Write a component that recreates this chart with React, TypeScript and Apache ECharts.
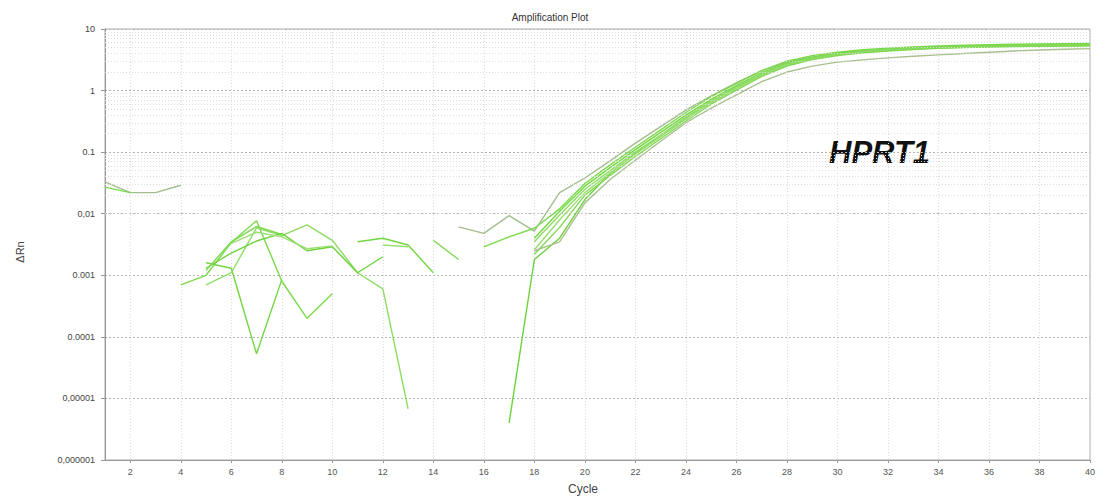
import React, { useEffect, useRef } from "react";
import * as echarts from "echarts";

// Cycle numbers on the x axis
const cycles = [
  1, 2, 3, 4, 5, 6, 7, 8, 9, 10, 11, 12, 13, 14, 15, 16, 17, 18, 19, 20,
  21, 22, 23, 24, 25, 26, 27, 28, 29, 30, 31, 32, 33, 34, 35, 36, 37, 38, 39, 40,
];
const xTickCycles = [2, 4, 6, 8, 10, 12, 14, 16, 18, 20, 22, 24, 26, 28, 30, 32, 34, 36, 38, 40];
const yTickLabels = ["0,000001", "0,00001", "0.0001", "0.001", "0,01", "0.1", "1", "10"];

// ΔRn per cycle for each well (null = negative / not plotted on log scale)
const well1 = [
  0.033, 0.022, 0.022, 0.029, null, null, null, null, null, null,
  null, null, null, null, 0.0061, 0.0048, 0.0093, 0.0052, 0.022, 0.038,
  0.072, 0.14, 0.26, 0.48, 0.82, 1.35, 2.1, 2.9, 3.5, 4.0,
  4.35, 4.6, 4.8, 5.0, 5.1, 5.2, 5.3, 5.35, 5.4, 5.45,
];
const well2 = [
  0.027, 0.022, null, 0.0007, 0.001, 0.0034, 0.0077, 0.0008, 0.0002, 0.0005,
  null, null, null, null, null, 0.0029, 0.0042, 0.0058, 0.012, 0.031,
  0.062, 0.12, 0.23, 0.44, 0.8, 1.3, 2.1, 3.0, 3.7, 4.2,
  4.6, 4.9, 5.1, 5.3, 5.45, 5.55, 5.65, 5.7, 5.75, 5.8,
];
const well3 = [
  null, null, null, null, 0.0016, 0.0013, 0.000053, 0.00085, null, null,
  0.0035, 0.004, 0.0031, 0.0011, null, null, null, 0.004, 0.011, 0.028,
  0.056, 0.11, 0.21, 0.4, 0.72, 1.2, 1.95, 2.8, 3.5, 4.0,
  4.4, 4.7, 4.95, 5.15, 5.3, 5.4, 5.5, 5.55, 5.6, 5.65,
];
const well4 = [
  null, null, null, null, 0.0007, 0.0011, 0.0059, 0.0044, 0.0066, 0.0037,
  0.0011, 0.0006, 0.0000068, null, null, null, null, 0.0035, 0.0095, 0.025,
  0.05, 0.1, 0.19, 0.37, 0.68, 1.15, 1.85, 2.7, 3.4, 3.9,
  4.3, 4.6, 4.85, 5.05, 5.2, 5.3, 5.4, 5.45, 5.5, 5.55,
];
const well5 = [
  null, null, null, null, 0.0013, 0.0023, 0.0036, 0.0048, 0.0025, 0.0029,
  0.0011, 0.002, null, null, null, null, 0.000004, 0.0018, 0.004, 0.017,
  0.045, 0.095, 0.18, 0.35, 0.64, 1.1, 1.8, 2.6, 3.3, 3.8,
  4.2, 4.5, 4.75, 4.95, 5.1, 5.2, 5.3, 5.35, 5.4, 5.45,
];
const well6 = [
  null, null, null, null, null, 0.0033, 0.005, 0.0042, 0.0027, 0.003,
  null, 0.0031, 0.0029, null, null, null, null, 0.0026, 0.008, 0.022,
  0.046, 0.093, 0.18, 0.35, 0.65, 1.1, 1.8, 2.6, 3.3, 3.8,
  4.2, 4.5, 4.75, 4.9, 5.05, 5.15, 5.25, 5.3, 5.35, 5.4,
];
const well7 = [
  null, null, null, null, 0.0012, 0.0035, 0.0062, 0.0046, null, null,
  null, null, null, 0.0037, 0.0018, null, null, 0.0022, 0.006, 0.02,
  0.042, 0.085, 0.165, 0.32, 0.6, 1.02, 1.7, 2.5, 3.2, 3.7,
  4.1, 4.4, 4.65, 4.85, 5.0, 5.1, 5.2, 5.25, 5.3, 5.35,
];
const well8 = [
  null, null, null, null, null, null, null, null, null, null,
  null, null, null, null, null, null, null, 0.0025, 0.0035, 0.015,
  0.036, 0.074, 0.15, 0.3, 0.52, 0.85, 1.4, 2.0, 2.5, 2.9,
  3.15, 3.4, 3.6, 3.8, 4.0, 4.2, 4.4, 4.55, 4.7, 4.8,
];

const wells = [well1, well2, well3, well4, well5, well6, well7, well8];
const wellColors = [
  "#a2bd8e", "#7bd94b", "#72d643", "#8fdc63", "#6ed23d", "#9ade70", "#7fd851", "#a8c08f",
];

// Faint in-decade grid lines (2..9 × each decade)
const decades = [1e-6, 1e-5, 1e-4, 1e-3, 1e-2, 1e-1, 1];
const minorSteps = [2, 3, 4, 5, 6, 7, 8, 9];

export default function App() {
  const ref = useRef<HTMLDivElement>(null);

  useEffect(() => {
    if (!ref.current) return;
    const chart = echarts.init(ref.current, null, { renderer: "svg" });

    const minorLines: { yAxis: number }[] = [];
    decades.forEach((d) => minorSteps.forEach((m) => minorLines.push({ yAxis: +(d * m).toPrecision(3) })));

    const lineSeries = wells.map((w, i) => ({
      type: "line",
      name: "Well " + (i + 1),
      data: cycles.map((c, j) => [c, w[j]]),
      showSymbol: false,
      symbol: "none",
      connectNulls: false,
      lineStyle: { color: wellColors[i], width: 1.4 },
      itemStyle: { color: wellColors[i] },
      z: 3,
    }));

    chart.setOption({
      animation: false,
      backgroundColor: "#ffffff",
      title: {
        text: "Amplification Plot",
        left: 545,
        top: 7,
        textAlign: "center",
        textStyle: { fontSize: 10, fontWeight: "normal", color: "#333", fontFamily: "Liberation Sans, Arial, sans-serif" },
      },
      grid: {
        left: 105,
        right: 9,
        top: 29,
        bottom: 39,
        show: true,
        borderColor: "#aaaaaa",
        borderWidth: 1,
        containLabel: false,
      },
      xAxis: {
        type: "value",
        min: 1,
        max: 40,
        axisLine: { lineStyle: { color: "#999999" } },
        axisTick: { show: true, customValues: xTickCycles, length: 3, lineStyle: { color: "#999999" } },
        axisLabel: {
          customValues: xTickCycles,
          fontSize: 9,
          color: "#555",
          margin: 7,
          fontFamily: "Liberation Sans, Arial, sans-serif",
        },
        splitLine: { show: true, lineStyle: { color: "#dcdcdc", type: [1, 2], width: 1 } },
      },
      yAxis: {
        type: "log",
        logBase: 10,
        min: 1e-6,
        max: 10,
        splitNumber: 7,
        axisLine: { show: true, lineStyle: { color: "#999999" } },
        axisTick: { show: true, length: 4, lineStyle: { color: "#999999" } },
        axisLabel: {
          fontSize: 9,
          color: "#444",
          margin: 10,
          fontFamily: "Liberation Sans, Arial, sans-serif",
          formatter: (v: number) => {
            const k = Math.round(Math.log10(v)) + 6;
            return yTickLabels[k] ?? "";
          },
        },
        splitLine: { show: true, lineStyle: { color: "#b4b4b4", type: [2, 2], width: 1 } },
      },
      graphic: [
        {
          type: "text",
          x: 20,
          y: 252,
          rotation: Math.PI / 2,
          style: {
            text: "ΔRn",
            fontSize: 11,
            fill: "#444",
            fontFamily: "Liberation Sans, Arial, sans-serif",
            textAlign: "center",
            textVerticalAlign: "middle",
          },
        },
        {
          type: "text",
          x: 583,
          y: 489,
          style: {
            text: "Cycle",
            fontSize: 12,
            fill: "#444",
            fontFamily: "Liberation Sans, Arial, sans-serif",
            textAlign: "center",
            textVerticalAlign: "middle",
          },
        },
        {
          type: "text",
          x: 829,
          y: 152,
          style: {
            text: "HPRT1",
            fontSize: 31,
            fontWeight: "bold",
            fontStyle: "italic",
            fill: "#111",
            fontFamily: "Liberation Sans, Arial, sans-serif",
            textAlign: "left",
            textVerticalAlign: "middle",
          },
        },
      ],
      series: [
        {
          type: "line",
          name: "grid",
          data: [],
          silent: true,
          z: 1,
          markLine: {
            silent: true,
            symbol: ["none", "none"],
            label: { show: false },
            lineStyle: { color: "#dddddd", type: [1, 2], width: 1 },
            emphasis: { disabled: true },
            data: minorLines,
          },
        },
        ...lineSeries,
      ],
    });

    return () => chart.dispose();
  }, []);

  return (
    <div
      ref={ref}
      style={{ position: "fixed", left: 0, top: 0, width: 1099, height: 499, background: "#fff" }}
    />
  );
}
